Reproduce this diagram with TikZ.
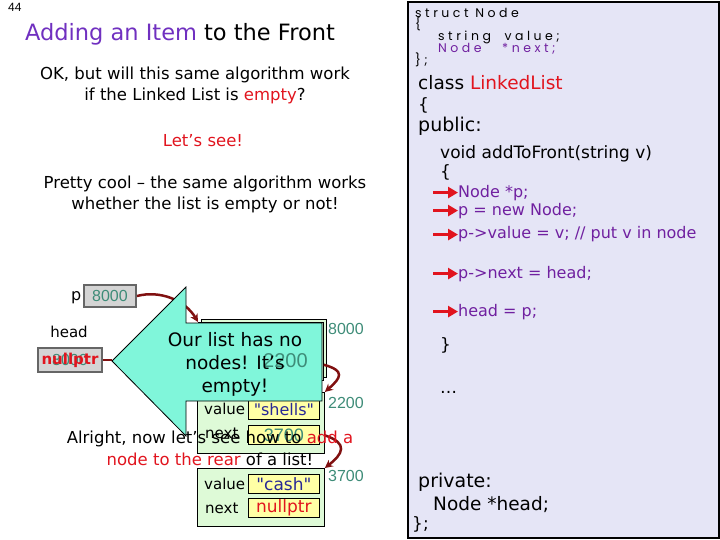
\documentclass[tikz,border=0pt]{standalone}
\usepackage{fontspec}
\setmainfont{DejaVu Sans}[Ligatures=TeXOff]
\newfontfamily\numfont{Liberation Sans}
\newfontfamily\geofont[LetterSpace=28]{Poppins}
\usetikzlibrary{arrows.meta}
\definecolor{titlepurple}{RGB}{112,48,192}
\definecolor{codepurple}{RGB}{112,32,160}
\definecolor{slidered}{RGB}{225,20,30}
\definecolor{panelbg}{RGB}{229,229,246}
\definecolor{nodegreen}{RGB}{222,250,215}
\definecolor{fieldyellow}{RGB}{255,255,165}
\definecolor{addrteal}{RGB}{62,140,120}
\definecolor{linkred}{RGB}{128,16,16}
\definecolor{calloutcyan}{RGB}{128,246,218}
\definecolor{boxgray}{RGB}{212,212,212}
\definecolor{navytext}{RGB}{40,40,150}
\newcommand{\fsz}[1]{\fontsize{#1}{#1}\selectfont}

\begin{document}
\begin{tikzpicture}[x=1pt,y=-1pt]
    \tikzstyle{txt} = [inner sep=0pt, anchor=base west]
    \tikzstyle{ctxt} = [inner sep=0pt, anchor=base]
    \tikzstyle{codeline} = [txt, font=\fsz{17}]
    \tikzstyle{purpleline} = [txt, font=\fsz{16}, text=codepurple]
    \tikzstyle{structline} = [txt, font=\geofont\fsz{12.5}]
    \tikzstyle{codearrow} = [slidered, line width=3.5pt, -{Triangle[length=10pt,width=11pt]}]
    \tikzstyle{varbox} = [draw=black!60, line width=2pt, fill=boxgray, anchor=north west, inner sep=0pt]
    \tikzstyle{listnode} = [draw, thick, fill=nodegreen, anchor=north west, inner sep=0pt]
    \tikzstyle{field} = [draw, thick, fill=fieldyellow, anchor=north west, inner sep=0pt, minimum width=71pt, minimum height=19pt, font=\fsz{16}]
    \tikzstyle{addr} = [txt, font=\numfont\fsz{16}, text=addrteal]
    \tikzstyle{link} = [linkred, line width=2.5pt, -{Stealth[length=8pt,width=8pt]}]

    \useasboundingbox (0,0) rectangle (720,540);

    % left side texts
    \node [txt, font=\numfont\fsz{12}] (page) at (8,12) {44};
    \node [ctxt, font=\fsz{22.5}] (title) at (180,41) {\textcolor{titlepurple}{Adding an Item} to the Front};
    \node [ctxt, font=\fsz{16.5}] (ask1) at (195,80) {OK, but will this same algorithm work};
    \node [ctxt, font=\fsz{16.5}] (ask2) at (195,101) {if the Linked List is \textcolor{slidered}{empty}?};
    \node [ctxt, font=\fsz{16.5}, text=slidered] (see) at (203,147) {Let’s see!};
    \node [ctxt, font=\fsz{16.5}] (cool1) at (205,189) {Pretty cool – the same algorithm works};
    \node [ctxt, font=\fsz{16.5}] (cool2) at (205,210) {whether the list is empty or not!};

    % code panel
    \node [draw, line width=2pt, fill=panelbg, anchor=north west, minimum width=311pt, minimum height=536pt] (panel) at (407,1) {};
    \node [structline] (s1) at (415,18) {struct Node};
    \node [structline] (s2) at (415,29) {\{};
    \node [structline] (s3) at (438,41) {string\ \ value;};
    \node [structline, text=codepurple] (s4) at (438,53) {Node\ \ \ *next;};
    \node [structline] (s5) at (415,65) {\};};
    \node [txt, font=\fsz{18.5}] (cls) at (418,90) {class \textcolor{slidered}{LinkedList}};
    \node [codeline] (ob) at (418,111) {\{};
    \node [txt, font=\fsz{19}] (pub) at (418,132) {public:};
    \node [codeline] (fn) at (440,159) {void addToFront(string v)};
    \node [codeline] (fob) at (440,178) {\{};
    \node [purpleline] (c1) at (458,197) {Node *p;};
    \node [purpleline] (c2) at (458,215) {p = new Node;};
    \node [purpleline] (c3) at (458,239) {p->value = v; // put v in node};
    \node [purpleline] (c4) at (458,278) {p->next = head;};
    \node [purpleline] (c5) at (458,316) {head = p;};
    \node [codeline] (fcb) at (440,350) {\}};
    \node [codeline] (dots) at (440,393) {\dots};
    \node [txt, font=\fsz{19}] (priv) at (418,487) {private:};
    \node [txt, font=\fsz{18.5}] (hd) at (433,510) {Node *head;};
    \node [codeline] (cb) at (412,529) {\};};

    \foreach \c in {c1,c2,c3,c4,c5}
        \draw [codearrow] ([xshift=-25pt]\c.west) -- (\c.west);

    % variables p and head
    \node [txt, font=\fsz{16}] (plabel) at (71,300) {p};
    \node [varbox, minimum width=52pt, minimum height=22pt, font=\numfont\fsz{16}, text=addrteal] (pbox) at (83,284) {8000};
    \node [ctxt, font=\fsz{15}] (hlabel) at (69,337) {head};
    \node [varbox, minimum width=64pt, minimum height=24pt, font=\numfont\fsz{16}, text=addrteal] (hbox) at (37,347) {8000};
    \node [font=\bfseries\fsz{15}, text=slidered, inner sep=0pt] (hnull) at (hbox.center) {nullptr};

    % nodes of the list
    \node [listnode, minimum width=125pt, minimum height=58pt] (n8000b) at (201,319) {};
    \node [listnode, minimum width=125pt, minimum height=58pt] (n8000) at (198,322) {};
    \node [listnode, minimum width=127pt, minimum height=61pt] (n2200) at (197,392) {};
    \node [listnode, minimum width=127pt, minimum height=58pt] (n3700) at (197,468) {};

    \node [txt, font=\fsz{15}] (val2200) at (204,414) {value};
    \node [field, text=navytext] (f2200v) at (248,400) {"shells"};
    \node [txt, font=\fsz{15}] (nxt2200) at (205,438) {next};
    \node [field, font=\numfont\fsz{18}, text=addrteal] (f2200n) at (248,425) {3700};
    \node [txt, font=\fsz{15}] (val3700) at (204,489) {value};
    \node [field, font=\fsz{17}, text=navytext] (f3700v) at (248,474) {"cash"};
    \node [txt, font=\fsz{15}] (nxt3700) at (205,513) {next};
    \node [field, font=\fsz{17}, text=slidered] (f3700n) at (248,498) {nullptr};

    \node [addr] (a8000) at (328,334) {8000};
    \node [addr] (a2200) at (328,408) {2200};
    \node [addr] (a3700) at (328,481) {3700};

    % links
    \draw [link] (pbox.east) .. controls (160,290) and (185,300) .. (n8000.north west);
    \draw [linkred, line width=2.5pt] (hbox.east) -- (112,360);
    \draw [link] (n8000.-12) .. controls +(22,6) and +(16,-14) .. (n2200.north east);
    \draw [link] (n2200.-11) .. controls +(24,8) and +(18,-14) .. (n3700.north east);

    % big callout arrow
    \draw [thick, fill=calloutcyan] (112,361) -- (186,287) -- (186,323) -- (322,323)
        -- (322,401) -- (186,401) -- (186,436) -- cycle;
    \node [txt, font=\numfont\fsz{20}, text=addrteal] (over2200) at (263,367) {2200};
    \node [ctxt, font=\fsz{18.5}] (call1) at (235,346) {Our list has no};
    \node [ctxt, font=\fsz{18.5}] (call2) at (235,369) {nodes! It’s};
    \node [ctxt, font=\fsz{18.5}] (call3) at (235,392) {empty!};

    \node [ctxt, font=\fsz{16.5}] (next1) at (210,443) {Alright, now let’s see how to \textcolor{slidered}{add a}};
    \node [ctxt, font=\fsz{16.5}] (next2) at (210,465) {\textcolor{slidered}{node to the rear} of a list!};
\end{tikzpicture}
\end{document}
